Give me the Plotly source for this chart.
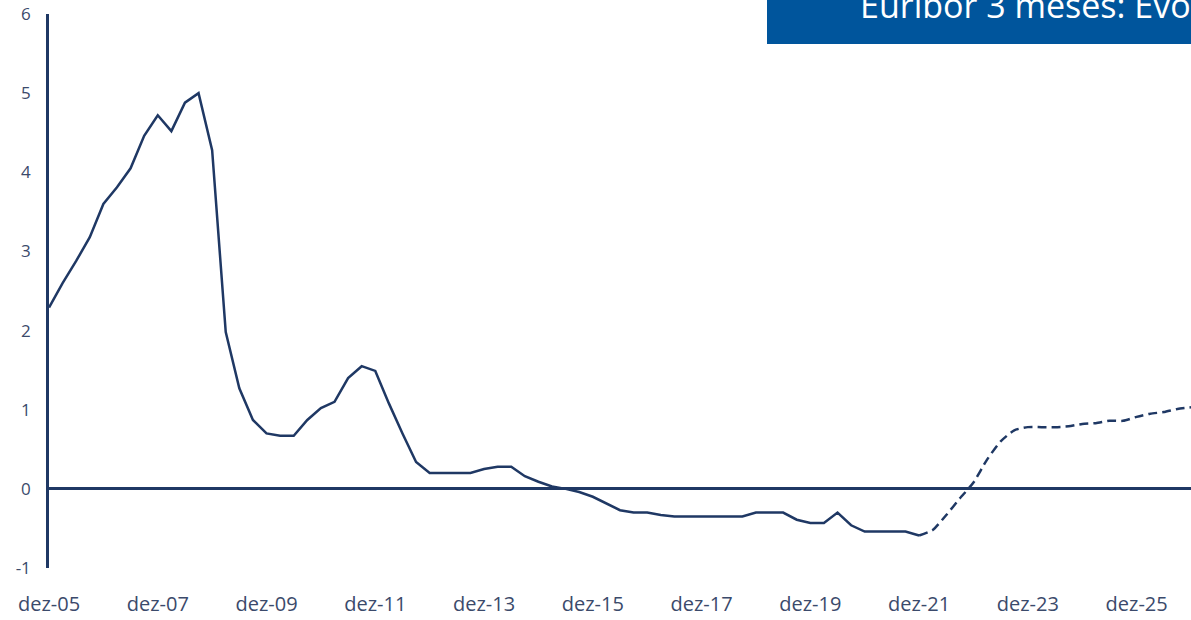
import plotly.graph_objects as go

# Quarterly categories dez-05 .. dez-26
months = ["dez", "mar", "jun", "set"]
categories = []
for i in range(85):
    m = months[i % 4]
    yr = 5 + (i + 3) // 4 if i % 4 != 0 else 5 + i // 4
    categories.append(f"{m}-{yr:02d}")

# Observed Euribor 3M (dez-05 .. dez-21)
observed = [2.29, 2.60, 2.88, 3.18, 3.60, 3.81, 4.05, 4.46, 4.72, 4.52,
            4.88, 5.00, 4.28, 1.98, 1.27, 0.87, 0.70, 0.67, 0.67, 0.87,
            1.02, 1.10, 1.40, 1.55, 1.49, 1.08, 0.70, 0.34, 0.20, 0.20,
            0.20, 0.20, 0.25, 0.28, 0.28, 0.16, 0.09, 0.03, 0.00, -0.04,
            -0.10, -0.19, -0.27, -0.30, -0.30, -0.33, -0.35, -0.35, -0.35, -0.35,
            -0.35, -0.35, -0.30, -0.30, -0.30, -0.39, -0.43, -0.43, -0.30, -0.46,
            -0.54, -0.54, -0.54, -0.54, -0.59]

# Forecast (dez-21 .. dez-26)
forecast = [-0.59, -0.52, -0.33, -0.12, 0.08, 0.37, 0.60, 0.74, 0.78, 0.78,
            0.78, 0.79, 0.82, 0.83, 0.86, 0.86, 0.91, 0.95, 0.97, 1.01, 1.03]

tick_labels = ["dez-05", "dez-07", "dez-09", "dez-11", "dez-13", "dez-15",
               "dez-17", "dez-19", "dez-21", "dez-23", "dez-25"]
y_ticks = [-1, 0, 1, 2, 3, 4, 5, 6]
y_tick_text = ["-1", "0", "1", "2", "3", "4", "5", "6"]

title_text = "Euribor 3 meses: Evolução"

navy = "#1f3864"
label_color = "#3b4a6b"
font_family = "Open Sans, Noto Sans, sans-serif"

n_obs = len(observed)
fig = go.Figure()
fig.add_trace(go.Scatter(
    x=categories[:n_obs], y=observed, mode="lines",
    line=dict(color=navy, width=2.5), hoverinfo="skip", showlegend=False))
fig.add_trace(go.Scatter(
    x=categories[n_obs - 1:n_obs - 1 + len(forecast)], y=forecast, mode="lines",
    line=dict(color=navy, width=2.5, dash="9px,5px", shape="spline", smoothing=0.6),
    hoverinfo="skip", showlegend=False))

fig.update_layout(
    width=1191, height=620,
    margin=dict(l=49, r=0, t=14, b=52),
    paper_bgcolor="white", plot_bgcolor="white",
    font=dict(family=font_family, color=label_color),
    xaxis=dict(
        type="category", categoryorder="array", categoryarray=categories,
        range=[0, 84], tickmode="array", tickvals=tick_labels, ticktext=tick_labels,
        showgrid=False, zeroline=False, showline=False,
        ticks="outside", ticklen=18, tickcolor="rgba(0,0,0,0)",
        tickfont=dict(size=20, color=label_color), tickangle=0),
    yaxis=dict(
        range=[-1, 6], tickmode="array", tickvals=y_ticks, ticktext=y_tick_text,
        showgrid=False, zeroline=True, zerolinecolor=navy, zerolinewidth=2.5,
        showline=True, linecolor=navy, linewidth=2.5,
        ticks="outside", ticklen=12, tickcolor="rgba(0,0,0,0)",
        tickfont=dict(size=17, color=label_color)),
)

# Title banner (cropped at right edge as in the reference)
fig.add_shape(type="rect", xref="paper", yref="paper",
              x0=(767 - 49) / 1142, x1=1.05, y0=(568 - 44) / 554, y1=(568 + 20) / 554,
              fillcolor="#00559c", line=dict(width=0), layer="above")
fig.add_annotation(xref="paper", yref="paper", x=(858 - 49) / 1142, y=(568 - 30) / 554,
                   xanchor="left", yanchor="bottom", showarrow=False,
                   text=title_text, font=dict(size=34, color="white", family=font_family))

fig.write_html("out.html", post_script="document.body.style.margin='0';",
               config={"displayModeBar": False})
